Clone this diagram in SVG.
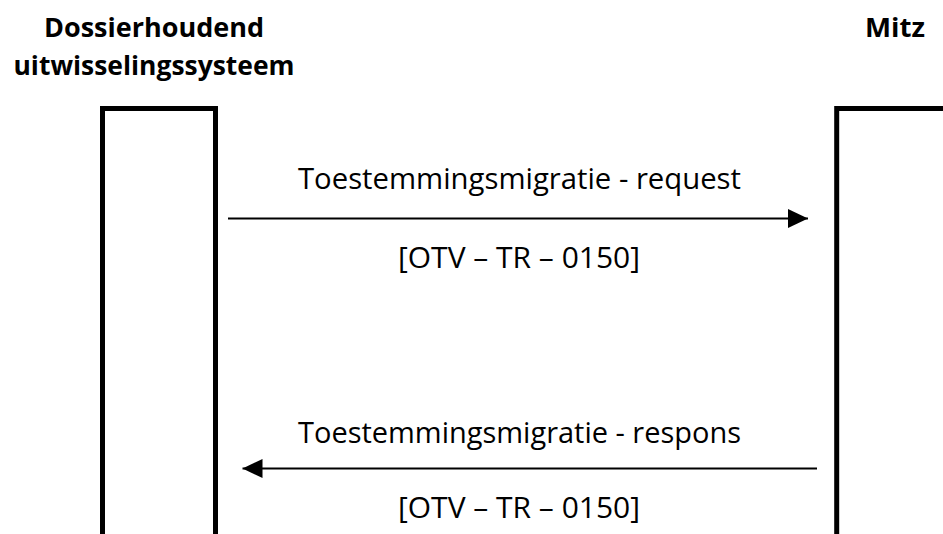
<svg xmlns="http://www.w3.org/2000/svg" width="943" height="534" viewBox="0 0 943 534">
<style>
.title{font-family:"Open Sans","Liberation Sans",sans-serif;font-weight:bold;font-size:27px;fill:#000}
.lbl{font-family:"Open Sans","Liberation Sans",sans-serif;font-size:29px;fill:#000}
.life{fill:none;stroke:#000;stroke-width:5}
.msg{stroke:#000;stroke-width:2.2;fill:none}
</style>
<defs>
<marker id="ah" markerUnits="userSpaceOnUse" markerWidth="20" markerHeight="20" viewBox="0 0 19 18" refX="19" refY="9" orient="auto">
<path d="M0,0 L19,9 L0,18 Z" fill="#000"/>
</marker>
</defs>
<rect width="943" height="534" fill="#fff"/>
<g id="node-dossier">
<text class="title" x="154" y="37" text-anchor="middle" textLength="220" lengthAdjust="spacingAndGlyphs">Dossierhoudend</text>
<text class="title" x="154" y="75" text-anchor="middle" textLength="281" lengthAdjust="spacingAndGlyphs">uitwisselingssysteem</text>
<path class="life" d="M102.5,540 V108.5 H215.5 V540"/>
</g>
<g id="node-mitz">
<text class="title" x="895" y="37" text-anchor="middle" textLength="60" lengthAdjust="spacingAndGlyphs">Mitz</text>
<path class="life" d="M836.7,540 V108.5 H950"/>
</g>
<g id="connectors">
<line class="msg" x1="228" y1="218.5" x2="808" y2="218.5" marker-end="url(#ah)"/>
<text class="lbl" x="519.5" y="189" text-anchor="middle" textLength="443" lengthAdjust="spacingAndGlyphs">Toestemmingsmigratie - request</text>
<text class="lbl" x="519" y="268" text-anchor="middle" textLength="242" lengthAdjust="spacingAndGlyphs">[OTV – TR – 0150]</text>
<line class="msg" x1="817" y1="468.5" x2="242.5" y2="468.5" marker-end="url(#ah)"/>
<text class="lbl" x="519.5" y="443" text-anchor="middle" textLength="443" lengthAdjust="spacingAndGlyphs">Toestemmingsmigratie - respons</text>
<text class="lbl" x="519" y="518" text-anchor="middle" textLength="242" lengthAdjust="spacingAndGlyphs">[OTV – TR – 0150]</text>
</g>
</svg>
